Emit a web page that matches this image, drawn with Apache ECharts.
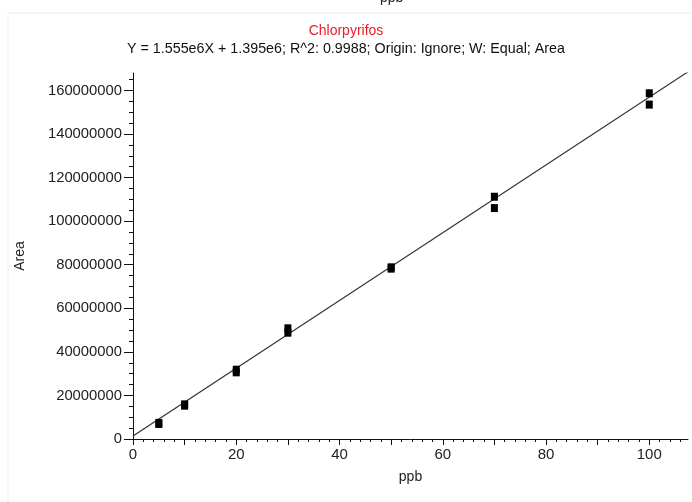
<!DOCTYPE html>
<html><head><meta charset="utf-8">
<script src="https://cdn.jsdelivr.net/npm/echarts@6/dist/echarts.min.js"></script>
<style>html,body{margin:0;padding:0;background:#fff}#c{width:692px;height:502px}</style>
</head><body><div id="c"></div>
<script>
const compound = "Chlorpyrifos";
const equation = "Y = 1.555e6X + 1.395e6; R^2: 0.9988; Origin: Ignore; W: Equal; Area";
const xName = "ppb";
const yName = "Area";
const calPoints = [
  [5, 6900000], [5, 7400000],
  [10, 15300000], [10, 15900000],
  [20, 30600000], [20, 31800000],
  [30, 48800000], [30, 50800000],
  [50, 78200000], [50, 78800000],
  [70, 106000000], [70, 111200000],
  [100, 153500000], [100, 158700000]
];
const fitLine = [[0, 1395000], [107.5, 168557500]];
const xTicks = [0, 20, 40, 60, 80, 100];
const xTickMarks = [0, 10, 20, 30, 40, 50, 60, 70, 80, 90, 100];
const yTicks = [0, 20000000, 40000000, 60000000, 80000000, 100000000, 120000000, 140000000, 160000000];

const FONT = "'Liberation Sans', Arial, sans-serif";
const chart = echarts.init(document.getElementById('c'), null, {renderer: 'canvas'});
chart.setOption({
  animation: false,
  backgroundColor: '#fff',
  title: [
    {text: compound, left: 'center', top: 19, textStyle: {color: '#e8202a', fontSize: 14, fontWeight: 'normal', fontFamily: FONT}},
    {text: equation, left: 'center', top: 37, textStyle: {color: '#111', fontSize: 14.3, fontWeight: 'normal', fontFamily: FONT}}
  ],
  graphic: [
    {type: 'rect', shape: {x: 8, y: 13, width: 700, height: 520}, style: {fill: 'none', stroke: '#ececec', lineWidth: 1}, silent: true},
    {type: 'text', left: 380, top: -9, style: {text: 'ppb', fontSize: 14, fontFamily: FONT, fill: '#222'}}
  ],
  grid: {left: 133, right: 4, top: 73, bottom: 63},
  xAxis: {
    type: 'value', min: 0, max: 107.5, interval: 20,
    name: xName, nameLocation: 'middle', nameGap: 31,
    nameTextStyle: {fontSize: 14, color: '#222', fontFamily: FONT},
    axisLine: {show: true, onZero: false, lineStyle: {color: '#111', width: 1}},
    axisTick: {show: true, length: 6, customValues: xTickMarks, lineStyle: {color: '#111'}},
    minorTick: {show: true, splitNumber: 10, length: 3, lineStyle: {color: '#111'}},
    axisLabel: {fontSize: 15, color: '#222', fontFamily: FONT, margin: 8,
      customValues: xTicks, formatter: v => String(v)},
    splitLine: {show: false}
  },
  yAxis: {
    type: 'value', min: 0, max: 168000000, interval: 20000000,
    name: yName, nameLocation: 'middle', nameGap: 106, nameRotate: 90,
    nameTextStyle: {fontSize: 14, color: '#222', fontFamily: FONT},
    axisLine: {show: true, onZero: false, lineStyle: {color: '#111', width: 1}},
    axisTick: {show: true, length: 9, customValues: yTicks, lineStyle: {color: '#111'}},
    minorTick: {show: true, splitNumber: 4, length: 4, lineStyle: {color: '#111'}},
    axisLabel: {fontSize: 14.8, color: '#222', fontFamily: FONT, margin: 11,
      customValues: yTicks, formatter: v => String(v)},
    splitLine: {show: false}
  },
  series: [
    {type: 'line', data: fitLine, symbol: 'none', lineStyle: {color: '#333', width: 1.2}, z: 2},
    {type: 'scatter', data: calPoints, symbol: 'rect', symbolSize: [7, 8], itemStyle: {color: '#000', opacity: 1}, z: 3}
  ]
});
</script></body></html>
